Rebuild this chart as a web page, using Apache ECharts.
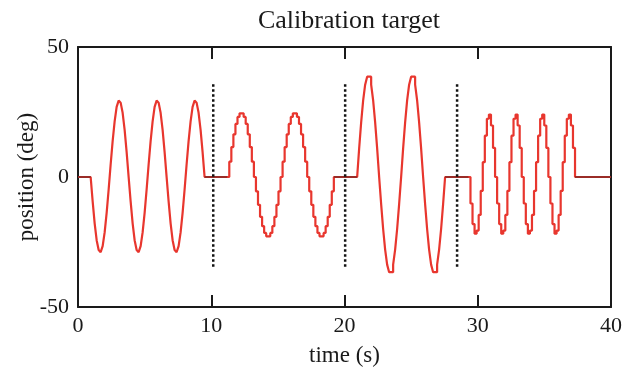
<!DOCTYPE html>
<html>
<head>
<meta charset="utf-8">
<script src="https://cdn.jsdelivr.net/npm/echarts@6/dist/echarts.min.js"></script>
<style>
  html, body { margin: 0; padding: 0; background: #fff; }
  #chart { width: 626px; height: 374px; }
</style>
</head>
<body>
<div id="chart"></div>
<script>
const segmentStarts = [0.95, 11.2, 20.95, 29.3];
const segmentEnds = [9.5, 19.2, 27.55, 37.3];

const burst1 = [
  0, -9.4, -17.8, -24.3, -28.1, -28.9, -26.6, -21.3, -13.8, -4.8, 4.8, 13.8, 21.4, 27.0, 29.4, 28.6, 24.7, 18.1, 9.6,
  0, -9.4, -17.8, -24.3, -28.1, -28.9, -26.6, -21.3, -13.8, -4.8, 4.8, 13.8, 21.4, 27.0, 29.4, 28.6, 24.7, 18.1, 9.6,
  0, -9.4, -17.8, -24.3, -28.1, -28.9, -26.6, -21.3, -13.8, -4.8, 4.8, 13.8, 21.4, 27.0, 29.4, 28.6, 24.7, 18.1, 9.6
];
const burst2 = [
  0, 5.9, 11.5, 16.4, 20.4, 23.1, 24.5, 24.5, 23.1, 20.4, 16.4, 11.5, 5.9,
  0, -5.5, -10.7, -15.3, -18.9, -21.5, -22.8, -22.8, -21.5, -18.9, -15.3, -10.7, -5.5,
  0, 5.9, 11.5, 16.4, 20.4, 23.1, 24.5, 24.5, 23.1, 20.4, 16.4, 11.5, 5.9,
  0, -5.5, -10.7, -15.3, -18.9, -21.5, -22.8, -22.8, -21.5, -18.9, -15.3, -10.7, -5.5
];
const burst3 = [
  0, 11.0, 21.0, 29.5, 35.5, 38.6, 38.6, 35.5, 29.5, 21.0, 11.0,
  0, -10.4, -20.0, -27.9, -33.7, -36.6, -36.6, -33.7, -27.9, -20.0, -10.4,
  0, 11.0, 21.0, 29.5, 35.5, 38.6, 38.6, 35.5, 29.5, 21.0, 11.0,
  0, -10.4, -20.0, -27.9, -33.7, -36.6, -36.6, -33.7, -27.9, -20.0, -10.4
];
const burst4 = [
  0, -10.2, -18.1, -21.8, -20.6, -14.6, -5.3, 5.7, 15.9, 22.4, 24.0, 19.8, 11.2,
  0, -10.2, -18.1, -21.8, -20.6, -14.6, -5.3, 5.7, 15.9, 22.4, 24.0, 19.8, 11.2,
  0, -10.2, -18.1, -21.8, -20.6, -14.6, -5.3, 5.7, 15.9, 22.4, 24.0, 19.8, 11.2,
  0, -10.2, -18.1, -21.8, -20.6, -14.6, -5.3, 5.7, 15.9, 22.4, 24.0, 19.8, 11.2
];
const bursts = [burst1, burst2, burst3, burst4];

// dotted separators
const markerTimes = [10.15, 20.05, 28.45];
const markerLow = -34.5;
const markerHigh = 36;

const xTicks = [0, 10, 20, 30, 40];
const yTicks = [-50, 0, 50];

const traceData = [[0, 0]];
const restData = [];
bursts.forEach((vals, s) => {
  const t0 = segmentStarts[s];
  const t1 = segmentEnds[s];
  const dt = (t1 - t0) / vals.length;
  vals.forEach((v, i) => traceData.push([t0 + i * dt, v]));
  traceData.push([t1, 0]);
});
traceData.push([xTicks[xTicks.length - 1], 0]);

const restStarts = [0].concat(segmentEnds);
const restEnds = segmentStarts.concat([xTicks[xTicks.length - 1]]);
restStarts.forEach((a, i) => {
  restData.push([a, 0], [restEnds[i], 0], [null, null]);
});

const serif = "'Liberation Serif', 'DejaVu Serif', serif";
const ink = '#1a1a1a';

const chart = echarts.init(document.getElementById('chart'));
const axisCommon = {
  type: 'value',
  axisLine: { show: true, onZero: false, lineStyle: { color: ink, width: 2 } },
  axisTick: { show: true, inside: true, length: 12, lineStyle: { color: ink, width: 2 } },
  splitLine: { show: false },
};

chart.setOption({
  animation: false,
  title: {
    text: 'Calibration target',
    left: 344,
    textAlign: 'center',
    top: 3,
    textStyle: { fontFamily: serif, fontSize: 26, fontWeight: 'normal', color: ink },
  },
  grid: { left: 78, right: 15, top: 47, bottom: 67, containLabel: false, outerBoundsMode: 'none' },
  xAxis: [
    Object.assign({}, axisCommon, {
      position: 'bottom',
      min: xTicks[0], max: xTicks[xTicks.length - 1], interval: 10,
      name: 'time (s)', nameLocation: 'middle', nameGap: 37,
      nameTextStyle: { fontFamily: serif, fontSize: 23, color: ink },
      axisLabel: { fontFamily: serif, fontSize: 22, color: ink, margin: 8 },
    }),
    Object.assign({}, axisCommon, {
      position: 'top',
      min: xTicks[0], max: xTicks[xTicks.length - 1], interval: 10,
      axisLabel: { show: false },
    }),
  ],
  yAxis: [
    Object.assign({}, axisCommon, {
      position: 'left',
      min: yTicks[0], max: yTicks[yTicks.length - 1], interval: 50,
      name: 'position (deg)', nameLocation: 'middle', nameGap: 40,
      nameMoveOverlap: false,
      nameTextStyle: { fontFamily: serif, fontSize: 23, color: ink },
      axisLabel: { fontFamily: serif, fontSize: 22, color: ink, margin: 9 },
    }),
    Object.assign({}, axisCommon, {
      position: 'right',
      min: yTicks[0], max: yTicks[yTicks.length - 1], interval: 50,
      axisLabel: { show: false },
    }),
  ],
  series: [
    {
      type: 'line',
      data: traceData,
      step: 'end',
      showSymbol: false,
      lineStyle: { color: '#e8362e', width: 2.2 },
      z: 3,
    },
    {
      type: 'line',
      data: restData,
      showSymbol: false,
      connectNulls: false,
      lineStyle: { color: '#9a2c27', width: 2.2 },
      z: 4,
    },
  ].concat(markerTimes.map((t) => ({
    type: 'line',
    data: [[t, markerLow], [t, markerHigh]],
    showSymbol: false,
    lineStyle: { color: '#111', width: 2.5, type: [2.5, 2.5] },
    z: 5,
  }))),
});
</script>
</body>
</html>
